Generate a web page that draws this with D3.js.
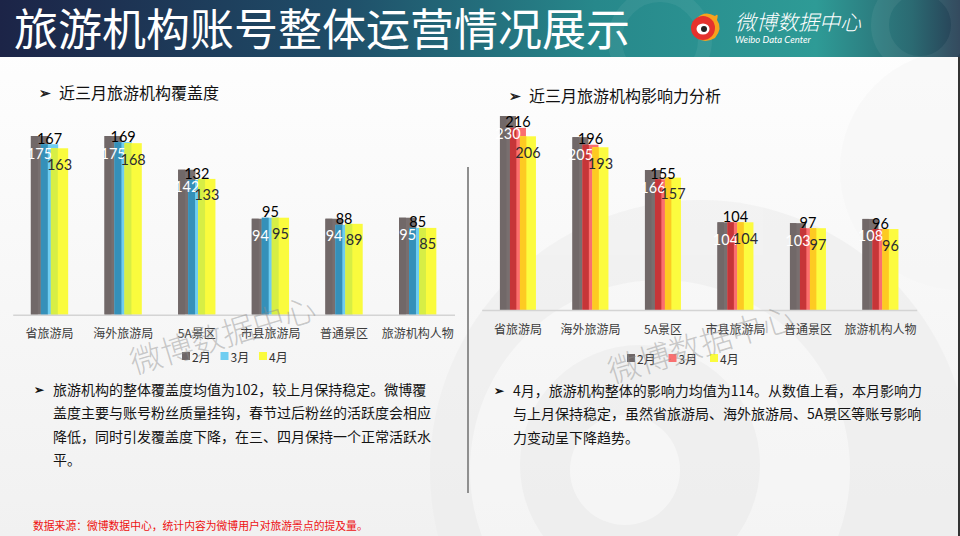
<!DOCTYPE html>
<html>
<head>
<meta charset="utf-8">
<script src="https://cdn.jsdelivr.net/npm/d3@7"></script>
<style>
  html, body { margin: 0; padding: 0; background: #fff; }
  svg { display: block; }
  text { font-family: "Noto Sans CJK SC", "Noto Sans", sans-serif; }
  .num { font-family: Lato, "Noto Sans", sans-serif; }
</style>
</head>
<body>
<svg id="chart" width="960" height="536"></svg>
<script>
// data
const categories = ["省旅游局", "海外旅游局", "5A景区", "市县旅游局", "普通景区", "旅游机构人物"];
const months = ["2月", "3月", "4月"];
const coverFeb = [175, 175, 142, 94, 94, 95];
const coverMar = [167, 169, 132, 95, 88, 85];
const coverApr = [163, 168, 133, 95, 89, 85];
const influFeb = [230, 205, 166, 104, 103, 108];
const influMar = [216, 196, 155, 104, 97, 96];
const influApr = [206, 193, 157, 104, 97, 96];

const leftNotes = [
  "旅游机构的整体覆盖度均值为102，较上月保持稳定。微博覆",
  "盖度主要与账号粉丝质量挂钩，春节过后粉丝的活跃度会相应",
  "降低，同时引发覆盖度下降，在三、四月保持一个正常活跃水",
  "平。"
];
const rightNotes = [
  "4月，旅游机构整体的影响力均值为114。从数值上看，本月影响力",
  "与上月保持稳定，虽然省旅游局、海外旅游局、5A景区等账号影响",
  "力变动呈下降趋势。"
];

const svg = d3.select("#chart");
const defs = svg.append("defs");

// background
const bg = defs.append("linearGradient").attr("id", "bg").attr("x1", 0).attr("y1", 0).attr("x2", 0).attr("y2", 1);
bg.append("stop").attr("offset", 0).attr("stop-color", "#ffffff");
bg.append("stop").attr("offset", 1).attr("stop-color", "#f1f1f1");
svg.append("rect").attr("width", 960).attr("height", 536).attr("fill", "url(#bg)");

// faint logo swirl behind the right half
const swirl = svg.append("g").attr("opacity", 0.55);
swirl.append("circle").attr("cx", 700).attr("cy", 470).attr("r", 270).attr("fill", "#ececec");
swirl.append("circle").attr("cx", 660).attr("cy", 470).attr("r", 190).attr("fill", "#f8f8f8");
swirl.append("circle").attr("cx", 640).attr("cy", 465).attr("r", 120).attr("fill", "#ececec");
swirl.append("circle").attr("cx", 625).attr("cy", 470).attr("r", 55).attr("fill", "#f9f9f9");
swirl.append("circle").attr("cx", 960).attr("cy", 170).attr("r", 120).attr("fill", "#f6f6f6");

// header band
const hg = defs.append("linearGradient").attr("id", "head").attr("x1", 0).attr("y1", 0).attr("x2", 1).attr("y2", 0);
[[0, "#1c2447"], [0.35, "#1f4d68"], [0.62, "#27888b"], [0.85, "#2e9b96"], [0.95, "#2b6a72"], [1, "#283f55"]]
  .forEach(s => hg.append("stop").attr("offset", s[0]).attr("stop-color", s[1]));
svg.append("rect").attr("width", 960).attr("height", 57).attr("fill", "url(#head)");
const headRings = svg.append("g").attr("fill", "none").attr("stroke", "#ffffff").attr("stroke-opacity", 0.06);
headRings.append("circle").attr("cx", 920).attr("cy", 25).attr("r", 40).attr("stroke-width", 18);
headRings.append("circle").attr("cx", 660).attr("cy", 40).attr("r", 45).attr("stroke-width", 14);

svg.append("text")
  .attr("x", 14).attr("y", 46)
  .attr("fill", "#ffffff")
  .attr("font-size", 44)
  .text("旅游机构账号整体运营情况展示");

// weibo logo
const logo = svg.append("g").attr("transform", "translate(705,28)");
logo.append("path").attr("d", "M-8,-10 Q0,-18 10,-12 Q14,-16 12,-8 Q18,0 10,10 Q0,16 -8,10 Z").attr("fill", "#f6a21e");
logo.append("circle").attr("r", 12).attr("cx", -2).attr("fill", "#e5322d");
logo.append("ellipse").attr("cx", -2).attr("cy", 1).attr("rx", 6.5).attr("ry", 5.5).attr("fill", "#ffffff");
logo.append("circle").attr("cx", -1).attr("cy", 1).attr("r", 3).attr("fill", "#222");
svg.append("text").attr("x", 735).attr("y", 30).attr("fill", "#fff").attr("font-size", 21)
  .attr("font-style", "italic").attr("font-weight", 300).text("微博数据中心");
svg.append("text").attr("x", 735).attr("y", 43).attr("fill", "#fff").attr("font-size", 9.5)
  .attr("font-style", "italic").style("font-family", "Lato, sans-serif").text("Weibo Data Center");

// right edge line
svg.append("line").attr("x1", 959).attr("x2", 959).attr("y1", 57).attr("y2", 536)
  .attr("stroke", "#333").attr("stroke-width", 2);

// divider
svg.append("line").attr("x1", 468).attr("x2", 468).attr("y1", 167).attr("y2", 493)
  .attr("stroke", "#8f8f8f").attr("stroke-width", 2);

function sectionTitle(x, y, label) {
  svg.append("text").attr("x", x).attr("y", y + 5).attr("font-size", 14).attr("font-weight", 700)
    .attr("fill", "#222").text("➢");
  svg.append("text").attr("x", x + 20).attr("y", y + 6).attr("font-size", 16).attr("fill", "#111").text(label);
}
sectionTitle(39, 93, "近三月旅游机构覆盖度");
sectionTitle(509, 96, "近三月旅游机构影响力分析");

function barChart(opt) {
  const x = d3.scaleBand().domain(categories).range([opt.x0, opt.x1]);
  const y = d3.scaleLinear().domain([0, opt.max]).range([opt.base, opt.top]);
  const off = d3.scaleLinear().domain([0, 2]).range([-opt.step, opt.step]);
  const g = svg.append("g");

  const series = opt.values.map((vals, i) => vals.map((v, j) => ({ cat: categories[j], v: v, i: i })));

  series.forEach((rows, i) => {
    const sg = g.append("g");
    const cx = d => x(d.cat) + x.bandwidth() / 2 + off(d.i);
    sg.selectAll("rect.light").data(rows).join("rect")
      .attr("x", d => cx(d) - opt.barW / 2)
      .attr("y", d => y(d.v))
      .attr("width", opt.barW)
      .attr("height", d => y(0) - y(d.v))
      .attr("fill", opt.colors[i][1]);
    sg.selectAll("rect.dark").data(rows).join("rect")
      .attr("x", d => cx(d) - opt.barW / 2)
      .attr("y", d => y(d.v))
      .attr("width", opt.barW * 0.4)
      .attr("height", d => y(0) - y(d.v))
      .attr("fill", opt.colors[i][0]);
  });

  // data labels: 2月 and 4月 inside the end, 3月 outside
  const labelStyle = [
    { dy: 17, fill: "#ffffff" },
    { dy: -6, fill: "#000000" },
    { dy: 16, fill: "#2b2b33" }
  ];
  series.forEach((rows, i) => {
    g.append("g").selectAll("text").data(rows).join("text")
      .attr("class", "num")
      .attr("x", d => x(d.cat) + x.bandwidth() / 2 + off(d.i))
      .attr("y", d => y(d.v) + labelStyle[i].dy)
      .attr("dominant-baseline", "central")
      .attr("text-anchor", "middle")
      .attr("font-size", 14.5)
      .attr("fill", labelStyle[i].fill)
      .text(d => d.v);
  });

  const axis = svg.append("g")
    .attr("transform", `translate(0,${opt.base})`)
    .call(d3.axisBottom(x).tickSize(0).tickPadding(15));
  axis.select(".domain").attr("stroke", "#d4d4d4").attr("stroke-width", 1.5);
  axis.selectAll("text")
    .attr("font-size", 12)
    .attr("fill", "#3c3c3c")
    .style("font-family", '"Noto Sans CJK SC", sans-serif');

  // legend
  const lg = svg.append("g").attr("transform", `translate(${opt.legendX},${opt.legendY})`);
  months.forEach((m, i) => {
    const item = lg.append("g").attr("transform", `translate(${i * opt.legendStep},0)`);
    item.append("rect").attr("x", 0).attr("y", -4).attr("width", 8).attr("height", 8).attr("fill", opt.legendColors[i]);
    item.append("text").attr("x", 10).attr("y", 0).attr("dominant-baseline", "central")
      .attr("font-size", 12).attr("fill", "#333").text(m);
  });
}

barChart({
  x0: 12.7, x1: 454.5, base: 314.7, top: 110.5, max: 200,
  step: 10, barW: 17.3,
  values: [coverFeb, coverMar, coverApr],
  colors: [["#716868", "#786f6f"], ["#3590b9", "#6ecdf1"], ["#d7ee45", "#fafb3d"]],
  legendColors: ["#6f6767", "#6ecdf1", "#fafb3d"],
  legendX: 182, legendY: 356, legendStep: 38.5
});

barChart({
  x0: 481.7, x1: 916.7, base: 310, top: 99.2, max: 250,
  step: 10, barW: 16,
  values: [influFeb, influMar, influApr],
  colors: [["#716868", "#786f6f"], ["#c63538", "#fb6e6e"], ["#fdca22", "#fcfb3f"]],
  legendColors: ["#6f6767", "#f97070", "#fafb3d"],
  legendX: 627, legendY: 358, legendStep: 41.5
});

// watermarks
[[222, 333], [700, 342]].forEach(p => {
  svg.append("text")
    .attr("transform", `translate(${p[0]},${p[1]}) rotate(-17)`)
    .attr("text-anchor", "middle")
    .attr("dominant-baseline", "central")
    .attr("font-size", 32)
    .attr("font-weight", 300)
    .attr("fill", "#8e8e8e")
    .attr("fill-opacity", 0.45)
    .text("微博数据中心");
});

// notes
function notes(x, y, lines) {
  svg.append("text").attr("x", x - 19).attr("y", y - 1).attr("font-size", 12).attr("font-weight", 700)
    .attr("fill", "#111").text("➢");
  const t = svg.append("text").attr("font-size", 14).attr("fill", "#141414");
  t.selectAll("tspan").data(lines).join("tspan")
    .attr("x", x)
    .attr("y", (d, i) => y + i * 23.3)
    .text(d => d);
}
notes(53, 395, leftNotes);
notes(513, 396, rightNotes);

svg.append("text")
  .attr("x", 33).attr("y", 530)
  .attr("font-size", 10.8)
  .attr("fill", "#ee1111")
  .text("数据来源：微博数据中心，统计内容为微博用户对旅游景点的提及量。");
</script>
</body>
</html>
